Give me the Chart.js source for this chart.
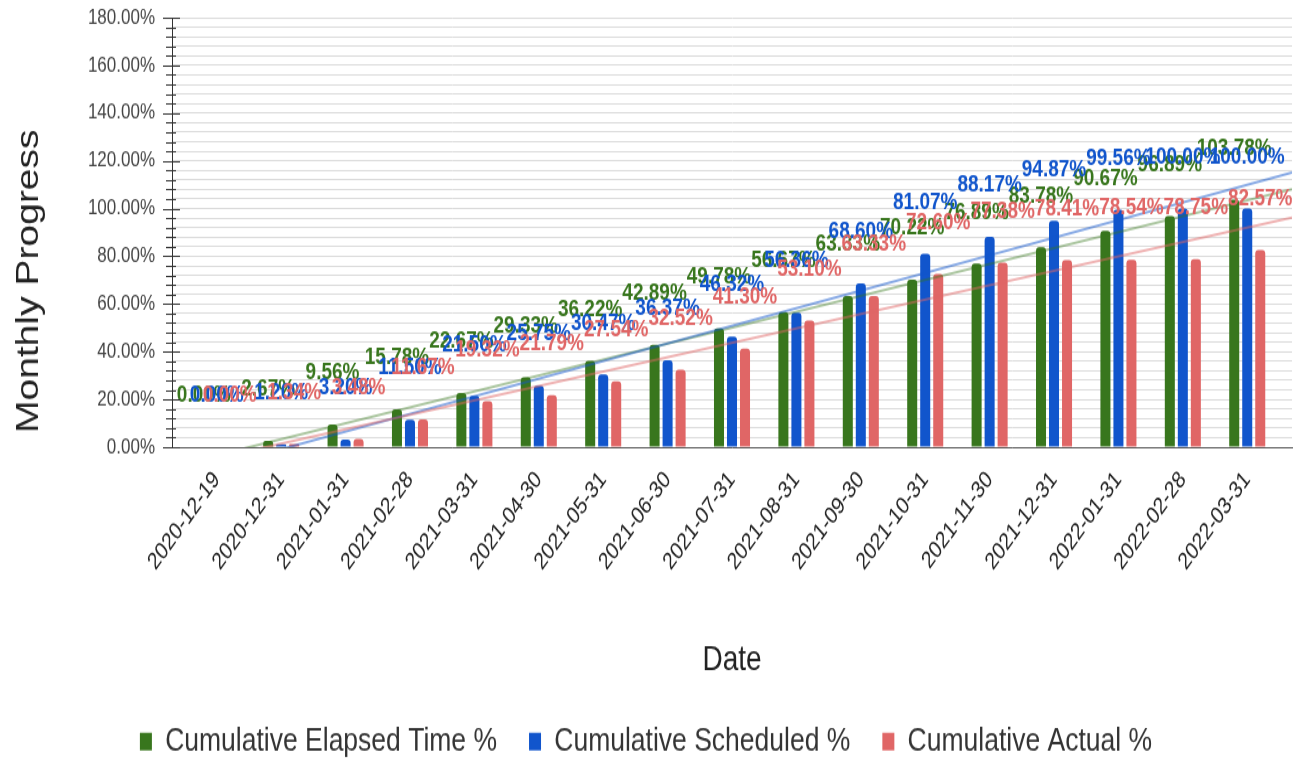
<!DOCTYPE html>
<html>
<head>
<meta charset="utf-8">
<script src="https://cdn.jsdelivr.net/npm/chart.js@4.4.1/dist/chart.umd.min.js"></script>
<style>
  html, body { margin: 0; padding: 0; background: #ffffff; }
</style>
</head>
<body>
<canvas id="c" width="1306" height="605" style="display:block;width:1306px;height:762px"></canvas>
<script>
// ---- data ----
const categories = ["2020-12-19","2020-12-31","2021-01-31","2021-02-28","2021-03-31","2021-04-30","2021-05-31","2021-06-30","2021-07-31","2021-08-31","2021-09-30","2021-10-31","2021-11-30","2021-12-31","2022-01-31","2022-02-28","2022-03-31"];
const elapsedPct   = [0.00, 2.67, 9.56, 15.78, 22.67, 29.33, 36.22, 42.89, 49.78, 56.67, 63.33, 70.22, 76.89, 83.78, 90.67, 96.89, 103.78];
const scheduledPct = [0.00, 1.20, 3.20, 11.50, 21.50, 25.75, 30.47, 36.37, 46.32, 56.36, 68.60, 81.07, 88.17, 94.87, 99.56, 100.00, 100.00];
const actualPct    = [0.00, 1.34, 3.48, 11.67, 19.32, 21.79, 27.54, 32.52, 41.30, 53.10, 63.33, 72.60, 77.38, 78.41, 78.54, 78.75, 82.57];
const seriesNames  = ["Cumulative Elapsed Time %", "Cumulative Scheduled %", "Cumulative Actual %"];
const yMin = 0, yMax = 180, yStep = 4, yMajor = 20;

// ---- styling ----
const FONT = '"Liberation Sans", Arial, Helvetica, sans-serif';
const colors = ['#38761d', '#1155cc', '#e06666'];
const trendColors = ['rgba(56,118,29,0.42)', 'rgba(17,85,204,0.5)', 'rgba(224,102,102,0.5)'];
const EDGE = 0.195;               // extra category-space at both ends of the x axis
const X0 = -0.5 - EDGE, X1 = categories.length - 0.5 + EDGE;

const seriesData = [elapsedPct, scheduledPct, actualPct];

function fitLine(vals) {
  const n = vals.length;
  let sx = 0, sy = 0, sxx = 0, sxy = 0;
  vals.forEach((v, i) => { sx += i; sy += v; sxx += i * i; sxy += i * v; });
  const m = (n * sxy - sx * sy) / (n * sxx - sx * sx);
  const b = (sy - m * sx) / n;
  return { m, b };
}

const barSets = seriesData.map((d, k) => ({
  type: 'bar',
  label: seriesNames[k],
  data: d,
  backgroundColor: colors[k],
  borderWidth: 0,
  borderRadius: { topLeft: 3, topRight: 3, bottomLeft: 0, bottomRight: 0 },
  borderSkipped: 'start',
  categoryPercentage: 0.606,
  barPercentage: 0.77
}));

// linear trendlines, drawn through the chart's own x / y scales
const trendPlugin = {
  id: 'trendlines',
  afterDatasetsDraw(chart) {
    const { ctx, chartArea: a, scales: { x, y } } = chart;
    ctx.save();
    ctx.beginPath();
    ctx.rect(a.left, a.top, a.right - a.left, a.bottom - a.top);
    ctx.clip();
    ctx.lineWidth = 2;
    seriesData.forEach((d, k) => {
      const { m, b } = fitLine(d);
      ctx.strokeStyle = trendColors[k];
      ctx.beginPath();
      ctx.moveTo(x.getPixelForValue(X0), y.getPixelForValue(m * X0 + b));
      ctx.lineTo(x.getPixelForValue(X1), y.getPixelForValue(m * X1 + b));
      ctx.stroke();
    });
    ctx.restore();
  }
};

const labelPlugin = {
  id: 'barLabels',
  afterDatasetsDraw(chart) {
    const ctx = chart.ctx;
    ctx.save();
    ctx.font = 'bold 19px ' + FONT;
    ctx.textAlign = 'center';
    ctx.textBaseline = 'middle';
    for (let di = 0; di < 3; di++) {
      const meta = chart.getDatasetMeta(di);
      const ds = chart.data.datasets[di];
      ctx.fillStyle = ds.backgroundColor;
      meta.data.forEach((el, i) => {
        ctx.fillText(ds.data[i].toFixed(2) + '%', el.x, el.y - 41);
      });
    }
    ctx.restore();
  }
};

const axisTickPlugin = {
  id: 'crossTicks',
  afterDraw(chart) {
    const s = chart.scales.y;
    const ctx = chart.ctx;
    const left = chart.chartArea.left;
    ctx.save();
    ctx.strokeStyle = '#333';
    ctx.lineWidth = 1;
    s.ticks.forEach(t => {
      const y = Math.round(s.getPixelForValue(t.value)) + 0.5;
      const major = t.value % yMajor === 0;
      ctx.beginPath();
      ctx.moveTo(left - (major ? 9 : 6), y);
      ctx.lineTo(left + (major ? 8 : 4), y);
      ctx.stroke();
    });
    ctx.restore();
  }
};

new Chart(document.getElementById('c'), {
  type: 'bar',
  data: { labels: categories, datasets: barSets },
  plugins: [trendPlugin, labelPlugin, axisTickPlugin],
  options: {
    responsive: false,
    maintainAspectRatio: false,
    devicePixelRatio: 1,
    animation: false,
    layout: { padding: { top: 14, right: 14, left: 0, bottom: -7 } },
    plugins: {
      tooltip: { enabled: false },
      title: { display: false },
      legend: {
        display: true,
        position: 'bottom',
        labels: {
          font: { family: FONT, size: 26.5 },
          color: '#333',
          boxWidth: 12,
          boxHeight: 14,
          padding: 32
        }
      }
    },
    scales: {
      x: {
        type: 'category',
        offset: true,
        afterBuildTicks: s => { s._startValue -= EDGE; s._valueRange += 2 * EDGE; },
        afterFit: s => { s.height = 188.5; },
        grid: { display: false, drawTicks: false },
        border: { display: true, color: '#555', width: 1 },
        ticks: {
          font: { family: FONT, size: 19 },
          color: '#222',
          minRotation: 48,
          maxRotation: 48,
          autoSkip: false,
          padding: 15
        },
        title: {
          display: true,
          text: 'Date',
          font: { family: FONT, size: 28 },
          color: '#222',
          padding: { top: 0, bottom: 2.5 }
        }
      },
      y: {
        min: yMin,
        max: yMax,
        afterFit: s => { s.width = 172; },
        grid: {
          color: '#dadada',
          lineWidth: 1,
          tickLength: 17,
          tickColor: 'rgba(0,0,0,0)'
        },
        border: { display: true, color: '#333', width: 1 },
        ticks: {
          stepSize: yStep,
          autoSkip: false,
          maxTicksLimit: 100,
          font: { family: FONT, size: 17 },
          color: '#444',
          padding: 0,
          callback: v => (v % yMajor === 0 ? v.toFixed(2) + '%' : '')
        },
        title: {
          display: true,
          text: 'Monthly Progress         ',
          font: { family: FONT, size: 31 },
          color: '#222',
          padding: { top: 11, bottom: 0 }
        }
      }
    }
  }
});
</script>
</body>
</html>
